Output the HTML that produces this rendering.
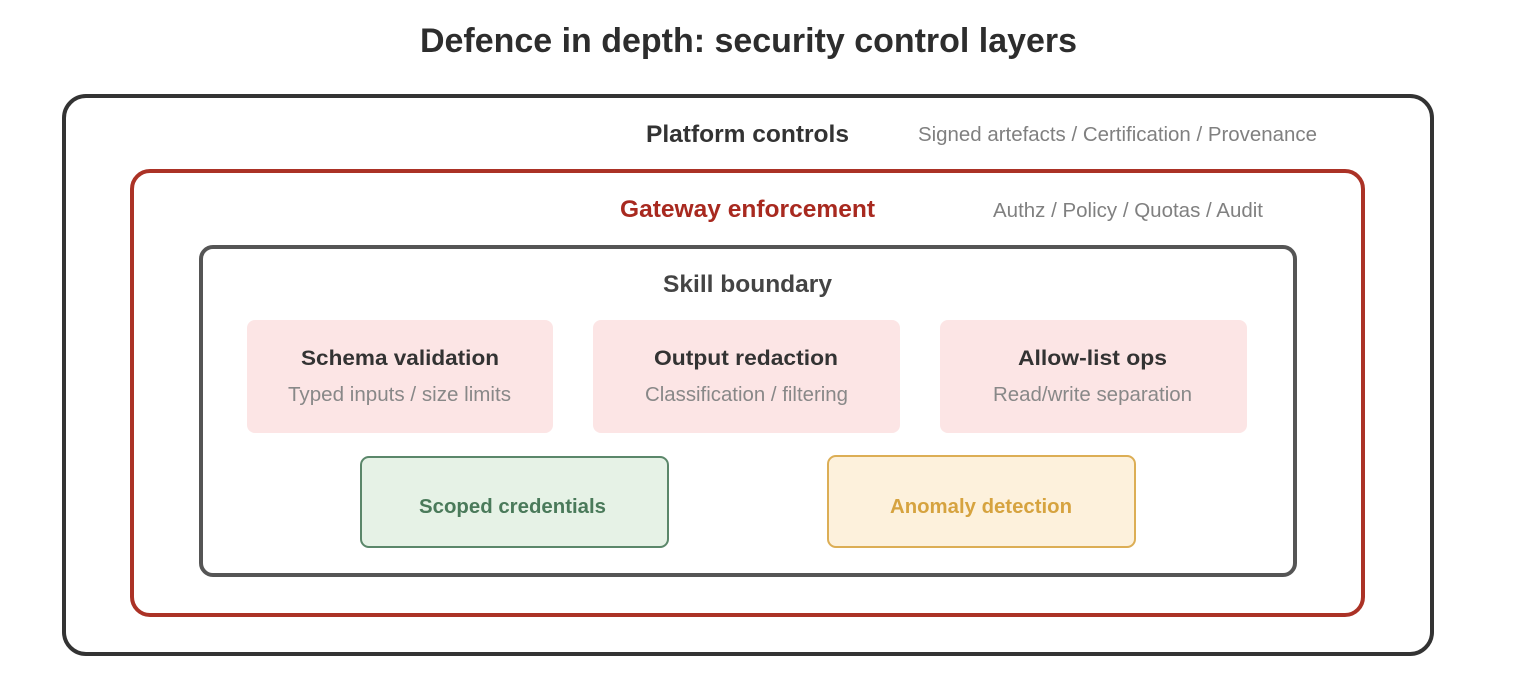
<!DOCTYPE html>
<html>
<head>
<meta charset="utf-8">
<style>
  html, body { margin: 0; padding: 0; background: #ffffff; }
  body { width: 1515px; height: 695px; overflow: hidden; }
  svg { display: block; }
  text { font-family: "Liberation Sans", Arial, sans-serif; }
  .b { font-weight: bold; }
</style>
</head>
<body>
<svg width="1515" height="695" viewBox="0 0 1515 695" xmlns="http://www.w3.org/2000/svg">
  <rect x="0" y="0" width="1515" height="695" fill="#ffffff"/>

  <!-- Title -->
  <text class="b" x="420" y="52" font-size="34" fill="#2d2d2d" textLength="657" lengthAdjust="spacingAndGlyphs">Defence in depth: security control layers</text>

  <!-- Outer: Platform controls -->
  <rect x="64" y="96" width="1368" height="558" rx="22" ry="22" fill="none" stroke="#333333" stroke-width="4"/>
  <text class="b" x="646" y="142" font-size="24" fill="#333333" textLength="203" lengthAdjust="spacingAndGlyphs">Platform controls</text>
  <text x="918" y="141" font-size="20.5" fill="#808080" textLength="399" lengthAdjust="spacingAndGlyphs">Signed artefacts / Certification / Provenance</text>

  <!-- Gateway enforcement -->
  <rect x="132" y="171" width="1231" height="444" rx="18" ry="18" fill="none" stroke="#ab3226" stroke-width="4"/>
  <text class="b" x="620" y="217" font-size="24.5" fill="#a8291f" textLength="255" lengthAdjust="spacingAndGlyphs">Gateway enforcement</text>
  <text x="993" y="217" font-size="20.5" fill="#808080" textLength="270" lengthAdjust="spacingAndGlyphs">Authz / Policy / Quotas / Audit</text>

  <!-- Skill boundary -->
  <rect x="201" y="247" width="1094" height="328" rx="12" ry="12" fill="none" stroke="#555555" stroke-width="4"/>
  <text class="b" x="663" y="292" font-size="24" fill="#444444" textLength="169" lengthAdjust="spacingAndGlyphs">Skill boundary</text>

  <!-- Pink boxes -->
  <rect x="247" y="320" width="306" height="113" rx="8" ry="8" fill="#fce5e5"/>
  <text class="b" x="301" y="365" font-size="21.5" fill="#333333" textLength="198" lengthAdjust="spacingAndGlyphs">Schema validation</text>
  <text x="288" y="401" font-size="20" fill="#888888" textLength="223" lengthAdjust="spacingAndGlyphs">Typed inputs / size limits</text>

  <rect x="593" y="320" width="307" height="113" rx="8" ry="8" fill="#fce5e5"/>
  <text class="b" x="654" y="365" font-size="21.5" fill="#333333" textLength="184" lengthAdjust="spacingAndGlyphs">Output redaction</text>
  <text x="645" y="401" font-size="20" fill="#888888" textLength="203" lengthAdjust="spacingAndGlyphs">Classification / filtering</text>

  <rect x="940" y="320" width="307" height="113" rx="8" ry="8" fill="#fce5e5"/>
  <text class="b" x="1018" y="365" font-size="21.5" fill="#333333" textLength="149" lengthAdjust="spacingAndGlyphs">Allow-list ops</text>
  <text x="993" y="401" font-size="20" fill="#888888" textLength="199" lengthAdjust="spacingAndGlyphs">Read/write separation</text>

  <!-- Scoped credentials -->
  <rect x="361" y="457" width="307" height="90" rx="8" ry="8" fill="#e6f2e6" stroke="#5b876a" stroke-width="2"/>
  <text class="b" x="419" y="513" font-size="20.5" fill="#4a7a5a" textLength="187" lengthAdjust="spacingAndGlyphs">Scoped credentials</text>

  <!-- Anomaly detection -->
  <rect x="828" y="456" width="307" height="91" rx="8" ry="8" fill="#fdf1dc" stroke="#dcae55" stroke-width="2"/>
  <text class="b" x="890" y="513" font-size="20.5" fill="#d6a33f" textLength="182" lengthAdjust="spacingAndGlyphs">Anomaly detection</text>
</svg>
</body>
</html>
